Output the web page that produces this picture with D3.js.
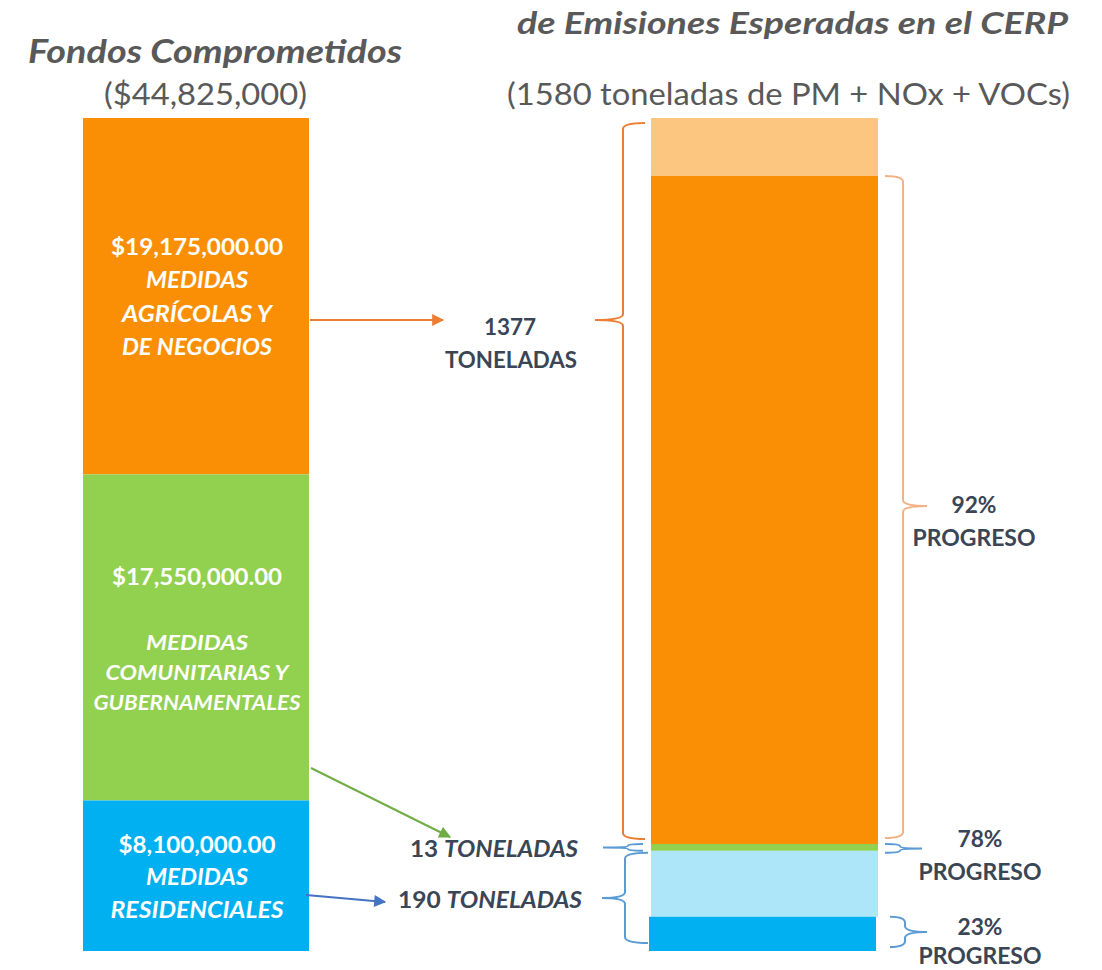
<!DOCTYPE html>
<html>
<head>
<meta charset="utf-8">
<script src="https://cdn.jsdelivr.net/npm/d3@7"></script>
<style>
  html, body { margin: 0; padding: 0; background: #ffffff; }
  svg { display: block; }
  text { font-family: Lato, "Open Sans", sans-serif; }
</style>
</head>
<body>
<svg id="chart" width="1102" height="970"></svg>
<script>
// ---------------- DATA ----------------
const categories = ["agricolas", "comunitarias", "residenciales"];
const fundValues = [19175000, 17550000, 8100000];          // USD committed
const fundTotal = 44825000;
const fundLabels = ["$19,175,000.00", "$17,550,000.00", "$8,100,000.00"];
const fundDescLines = [
  ["MEDIDAS", "AGRÍCOLAS Y", "DE NEGOCIOS"],
  ["MEDIDAS", "COMUNITARIAS Y", "GUBERNAMENTALES"],
  ["MEDIDAS", "RESIDENCIALES"]
];
const tonsValues = [1377, 13, 190];                         // expected reductions (tons)
const tonsTotal = 1580;
const achievedTons = [1267, 13, 65];                        // achieved portion as drawn
const progressPct = [92, 78, 23];

const colDark = ["#fa8f06", "#92d050", "#00b0f0"];
const colLight = ["#fcc680", "#92d050", "#ade5f9"];
const arrowCol = ["#ed7d31", "#70ad47", "#4472c4"];
const braceColL = ["#ed7d31", "#5b9bd5", "#5b9bd5"];
const braceColR = ["#f4b183", "#5b9bd5", "#5b9bd5"];
const textDark = "#3a4555";
const grey = "#595959";

// ---------------- SETUP ----------------
const svg = d3.select("#chart");
const yTop = 118, yBottom = 951;
const yL = d3.scaleLinear().domain([0, fundTotal]).range([yTop, yBottom]);
const yR = d3.scaleLinear().domain([0, tonsTotal]).range([yTop, yBottom]);
const leftX = [83, 309];
const rightX = [651, 878];

function fit(sel, w) {
  sel.attr("textLength", w).attr("lengthAdjust", "spacingAndGlyphs");
  return sel;
}

// ---------------- TITLES ----------------
fit(svg.append("text").attr("x", 28).attr("y", 63)
  .attr("font-size", 32).attr("font-weight", 700).attr("font-style", "italic")
  .attr("fill", grey).text("Fondos Comprometidos"), 374);
fit(svg.append("text").attr("x", 104).attr("y", 105)
  .attr("font-size", 31).attr("fill", grey).text("($44,825,000)"), 203);
fit(svg.append("text").attr("x", 517).attr("y", 34)
  .attr("font-size", 30).attr("font-weight", 700).attr("font-style", "italic")
  .attr("fill", grey).text("de Emisiones Esperadas en el CERP"), 551);
fit(svg.append("text").attr("x", 507).attr("y", 105)
  .attr("font-size", 31).attr("fill", grey).text("(1580 toneladas de PM + NOx + VOCs)"), 563);

// ---------------- LEFT BAR ----------------
let cum = 0;
const leftSegs = fundValues.map((v, i) => { const s = {i, y0: cum, y1: cum + v}; cum += v; return s; });
svg.append("g").selectAll("rect").data(leftSegs).join("rect")
  .attr("x", leftX[0]).attr("width", leftX[1] - leftX[0])
  .attr("y", d => yL(d.y0)).attr("height", d => yL(d.y1) - yL(d.y0))
  .attr("fill", d => colDark[d.i]);

// left labels
const lblCx = 197;
const amountY = [255, 585, 853];
const descY = [[288, 322, 355], [650, 680, 710], [885, 918]];
const amountW = [172, 170, 157];
const descW = [[102, 150, 150], [102, 183, 207], [102, 173]];
fundLabels.forEach((t, i) => {
  fit(svg.append("text").attr("x", lblCx).attr("y", amountY[i]).attr("text-anchor", "middle")
    .attr("font-size", 23).attr("font-weight", 700).attr("fill", "#ffffff").text(t), amountW[i]);
  fundDescLines[i].forEach((ln, j) => {
    fit(svg.append("text").attr("x", lblCx).attr("y", descY[i][j]).attr("text-anchor", "middle")
      .attr("font-size", i === 1 ? 21 : 23).attr("font-weight", 700).attr("font-style", "italic")
      .attr("fill", "#ffffff").text(ln), descW[i][j]);
  });
});

// ---------------- RIGHT BAR ----------------
let c2 = 0;
const rightSegs = [];
tonsValues.forEach((v, i) => {
  const rem = v - achievedTons[i];
  rightSegs.push({i, y0: c2, y1: c2 + rem, color: colLight[i]}); c2 += rem;
  rightSegs.push({i, y0: c2, y1: c2 + achievedTons[i], color: colDark[i]}); c2 += achievedTons[i];
});
svg.append("g").selectAll("rect").data(rightSegs.filter(d => d.y1 > d.y0)).join("rect")
  .attr("x", d => rightX[0] - (d.i === 2 && d.color === colDark[2] ? 2 : 0))
  .attr("width", rightX[1] - rightX[0])
  .attr("y", d => yR(d.y0)).attr("height", d => yR(d.y1) - yR(d.y0))
  .attr("fill", d => d.color);

// ---------------- BRACES ----------------
function bracePath(hx, vx, tx, y0, y1, yt) {
  const r = Math.min(6, (y1 - y0) / 4);
  return `M${hx},${y0} Q${vx},${y0} ${vx},${y0 + r} L${vx},${yt - r} Q${vx},${yt} ${tx},${yt}` +
         ` Q${vx},${yt} ${vx},${yt + r} L${vx},${y1 - r} Q${vx},${y1} ${hx},${y1}`;
}
const catStart = [0, tonsValues[0], tonsValues[0] + tonsValues[1]];
const gBr = svg.append("g").attr("fill", "none").attr("stroke-width", 2);
const leftBrace = [
  {hx: 645, vx: 623, tx: 595, pad: [5, -5], yt: 320},
  {hx: 643, vx: 628, tx: 603, pad: [0, 0], yt: null},
  {hx: 648, vx: 625, tx: 602, pad: [2, -8], yt: 898}
];
leftBrace.forEach((b, i) => {
  const y0 = yR(catStart[i]) + b.pad[0], y1 = yR(catStart[i] + tonsValues[i]) + b.pad[1];
  const yt = b.yt === null ? (y0 + y1) / 2 : b.yt;
  gBr.append("path").attr("d", bracePath(b.hx, b.vx, b.tx, y0, y1, yt))
    .attr("stroke", braceColL[i]);
});
const rightBrace = [
  {hx: 885, vx: 903, tx: 927, pad: [0, -6], yt: 506},
  {hx: 885, vx: 900, tx: 922, pad: [0, 2], yt: null},
  {hx: 890, vx: 905, tx: 927, pad: [0, -4], yt: 932}
];
rightBrace.forEach((b, i) => {
  const endT = catStart[i] + tonsValues[i];
  const y0 = yR(endT - achievedTons[i]) + b.pad[0], y1 = yR(endT) + b.pad[1];
  const yt = b.yt === null ? (y0 + y1) / 2 : b.yt;
  gBr.append("path").attr("d", bracePath(b.hx, b.vx, b.tx, y0, y1, yt))
    .attr("stroke", braceColR[i]);
});

// ---------------- ARROWS ----------------
const defs = svg.append("defs");
arrowCol.forEach((c, i) => {
  defs.append("marker").attr("id", "ah" + i).attr("viewBox", "0 0 10 10")
    .attr("refX", 9).attr("refY", 5).attr("markerWidth", 7).attr("markerHeight", 6)
    .attr("markerUnits", "strokeWidth").attr("orient", "auto")
    .append("path").attr("d", "M0,0 L10,5 L0,10 Z").attr("fill", c);
});
const arrows = [
  {x1: 310, y1: 320, x2: 443, y2: 320},
  {x1: 311, y1: 768, x2: 450, y2: 837},
  {x1: 306, y1: 895, x2: 385, y2: 902}
];
arrows.forEach((a, i) => {
  svg.append("line").attr("x1", a.x1).attr("y1", a.y1).attr("x2", a.x2).attr("y2", a.y2)
    .attr("stroke", arrowCol[i]).attr("stroke-width", 2).attr("marker-end", `url(#ah${i})`);
});

// ---------------- TONS LABELS ----------------
fit(svg.append("text").attr("x", 510).attr("y", 335).attr("text-anchor", "middle")
  .attr("font-size", 23).attr("font-weight", 700).attr("fill", textDark).text(tonsValues[0]), 52);
fit(svg.append("text").attr("x", 511).attr("y", 368).attr("text-anchor", "middle")
  .attr("font-size", 23).attr("font-weight", 700).attr("fill", textDark).text("TONELADAS"), 132);

function tonsLine(x, y, num, w) {
  const t = svg.append("text").attr("x", x).attr("y", y).attr("text-anchor", "end")
    .attr("font-size", 23).attr("font-weight", 700).attr("fill", textDark);
  t.append("tspan").text(num + " ");
  t.append("tspan").attr("font-style", "italic").text("TONELADAS");
  fit(t, w);
}
tonsLine(578, 857, tonsValues[1], 168);
tonsLine(582, 908, tonsValues[2], 184);

// ---------------- PROGRESS LABELS ----------------
const progY = [[513, 546], [847, 880], [935, 964]];
const progCx = [974, 980, 980];
progressPct.forEach((p, i) => {
  fit(svg.append("text").attr("x", progCx[i]).attr("y", progY[i][0]).attr("text-anchor", "middle")
    .attr("font-size", 23).attr("font-weight", 700).attr("fill", textDark).text(p + "%"), 45);
  fit(svg.append("text").attr("x", progCx[i]).attr("y", progY[i][1]).attr("text-anchor", "middle")
    .attr("font-size", 23).attr("font-weight", 700).attr("fill", textDark).text("PROGRESO"), 123);
});
</script>
</body>
</html>
